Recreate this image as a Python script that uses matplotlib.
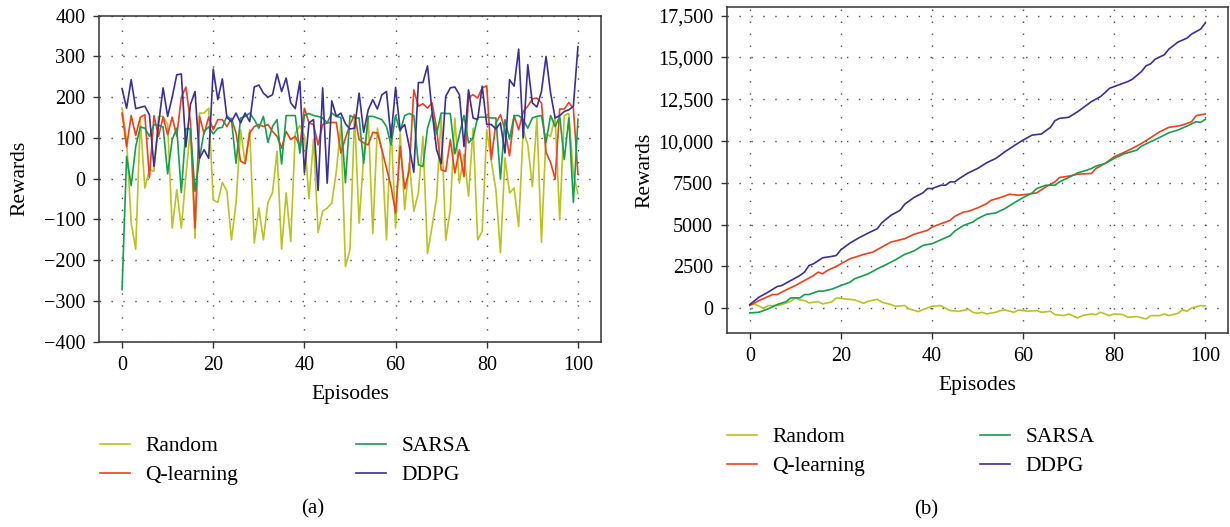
import numpy as np
import matplotlib
matplotlib.use("Agg")
import matplotlib.pyplot as plt
from matplotlib.ticker import FixedLocator, FixedFormatter

plt.rcParams["font.family"] = ["Liberation Serif", "DejaVu Serif"]

# ---- data ----
series_names = ["Random", "Q-learning", "SARSA", "DDPG"]
series_colors = ["#b9c41c", "#f0401e", "#13a04c", "#3b2f98"]

episodes = np.arange(0, 101)

# (a) reward per episode
random_rewards = [
    173, 96, -109, -173, 145, -23, 22, 18, 153, 153,
    133, -121, -27, -121, 6, 124, -146, 161, 161, 173,
    -52, -58, -9, -31, -150, -60, 120, 38, 120, -158,
    -72, -150, -58, -34, 67, -173, -35, -154, 112, 130,
    105, -49, 97, -132, -80, -72, -60, 18, 133, -215,
    -174, 157, -109, 55, 150, -135, 124, 71, -150, 133,
    -121, 112, -76, 38, -80, -35, 104, -184, -117, -47,
    153, -151, -76, 149, -11, 60, -43, 124, -150, -129,
    120, 43, -27, -182, 51, -35, -23, -117, 120, 83,
    -19, 149, -156, 110, 104, 153, -101, 155, 160, 10,
    -37,
]
qlearning_rewards = [
    161, 78, 155, 106, 151, 157, 2, 155, 104, 151,
    108, 151, 104, 200, 225, 140, -121, 153, 110, 151,
    120, 145, 145, 128, 148, 112, 43, 37, 112, 128,
    133, 128, 133, 116, 104, 75, 116, 96, 104, 79,
    173, 137, 133, 83, 133, 137, 138, 138, 63, 100,
    133, 157, 96, 88, 83, 114, 112, 71, 26, -19,
    -84, 79, -25, 22, 218, 178, 184, 173, 186, 124,
    22, 18, 96, 14, 71, 5, 200, 206, 198, 223,
    228, 47, 137, 157, 120, 56, 155, 120, 165, 178,
    196, 198, 186, 65, 40, -1, 171, 171, 187, 173,
    11,
]
sarsa_rewards = [
    -272, 55, -17, 79, 127, 124, 104, 133, 131, 127,
    12, 96, 124, -34, 123, 122, -31, 51, 116, 127,
    110, 124, 126, 154, 145, 38, 149, 153, 161, 145,
    124, 153, 89, 128, 145, 36, 155, 155, 155, 63,
    155, 160, 155, 153, 149, 137, 161, 153, 150, -10,
    155, 149, 149, 38, 153, 153, 149, 145, 128, 83,
    155, 116, 155, 160, 155, 34, 30, 124, 161, 110,
    161, 160, 160, 61, 108, 155, 88, 100, 151, 151,
    151, 149, 149, -1, 145, 97, 155, 155, 145, 124,
    149, 153, 155, 89, 155, 128, 153, 47, 149, -58,
    146,
]
ddpg_rewards = [
    221, 173, 243, 172, 175, 178, 157, 30, 133, 223,
    153, 200, 255, 257, 78, 182, 214, 50, 71, 50,
    269, 194, 245, 150, 140, 161, 137, 161, 140, 225,
    230, 210, 200, 206, 257, 214, 247, 186, 172, 239,
    14, 137, 145, -29, 223, -11, 191, 153, 161, 135,
    122, 124, 210, 114, 169, 194, 171, 206, 214, 100,
    224, 120, 133, 79, 16, 236, 236, 277, 165, 71,
    37, 202, 223, 225, 206, 79, 218, 149, 145, 227,
    133, 133, 122, 137, 63, 243, 227, 318, 100, 280,
    186, 176, 214, 300, 210, 149, 155, 165, 169, 178,
    324,
]

# (b) cumulative reward
random_cum_ep = [0, 1, 3, 4, 6, 7, 9, 10, 11, 12, 13, 15, 16, 18, 19, 21, 23, 25,
                 26, 28, 29, 31, 32, 34, 35, 37, 38, 40, 42, 43, 44, 46, 48, 49,
                 50, 51, 52, 54, 55, 56, 58, 59, 61, 63, 64, 66, 67, 69, 70, 72,
                 73, 75, 76, 77, 79, 80, 82, 83, 85, 87, 88, 90, 91, 92, 94, 95,
                 96, 97, 99, 100]
random_cum = [220, 260, 0, 160, 160, 220, 420, 620, 500, 460, 320, 400, 260, 380,
              620, 560, 500, 300, 420, 540, 360, 220, 120, 160, -40, -200, -80,
              120, 160, 0, -140, -180, -60, -240, -300, -240, -340, -240, -140,
              -100, -240, -100, -180, -140, -240, -180, -380, -440, -340, -580,
              -440, -340, -380, -240, -440, -340, -380, -540, -500, -640, -440,
              -440, -340, -440, -300, -100, -180, 20, 160, 140]

qlearning_cum_ep = [0, 2, 5, 6, 8, 10, 12, 14, 15, 16, 17, 19, 20, 22, 25, 27, 29,
                    31, 34, 36, 39, 40, 42, 44, 45, 47, 48, 50, 52, 53, 55, 57,
                    59, 61, 63, 65, 67, 68, 70, 72, 75, 76, 78, 80, 82, 84, 86,
                    88, 90, 92, 94, 95, 97, 98, 100]
qlearning_cum = [160, 460, 820, 820, 1100, 1360, 1660, 1960, 2160, 2060, 2260,
                 2500, 2660, 2960, 3220, 3360, 3660, 3960, 4160, 4420, 4660, 4860,
                 5060, 5260, 5500, 5760, 5800, 6000, 6260, 6460, 6620, 6820, 6760,
                 6820, 6900, 7260, 7560, 7820, 7900, 8020, 8060, 8360, 8660, 9060,
                 9300, 9560, 9860, 10200, 10560, 10820, 10900, 10960, 11160,
                 11520, 11620]

sarsa_cum_ep = [0, 2, 4, 6, 8, 9, 11, 12, 13, 15, 16, 18, 20, 22, 23, 25, 26, 28,
                30, 32, 34, 36, 38, 40, 42, 44, 45, 47, 49, 50, 52, 54, 56, 58,
                60, 62, 63, 65, 67, 68, 70, 72, 74, 75, 76, 78, 80, 82, 85, 86,
                88, 90, 92, 94, 96, 98, 99, 100]
sarsa_cum = [-280, -240, -40, 220, 400, 620, 620, 820, 820, 1020, 1020, 1140,
             1360, 1560, 1760, 1960, 2060, 2360, 2620, 2900, 3220, 3420, 3760,
             3860, 4100, 4340, 4620, 4960, 5160, 5360, 5620, 5700, 5960, 6300,
             6620, 6900, 7160, 7360, 7360, 7560, 7820, 8100, 8260, 8360, 8500,
             8660, 8960, 9220, 9460, 9700, 9960, 10220, 10500, 10660, 10900,
             11160, 11120, 11300]

ddpg_cum_ep = [0, 2, 4, 6, 7, 9, 11, 12, 13, 14, 16, 18, 19, 20, 22, 24, 26, 28,
               29, 31, 33, 34, 36, 38, 39, 40, 42, 43, 44, 45, 46, 48, 50, 52,
               54, 56, 58, 60, 62, 64, 66, 67, 68, 70, 72, 74, 75, 77, 78, 79,
               81, 83, 84, 86, 87, 88, 89, 91, 92, 94, 96, 97, 99, 100]
ddpg_cum = [220, 660, 960, 1300, 1360, 1660, 1960, 2160, 2560, 2660, 3020, 3100,
            3160, 3500, 3900, 4220, 4500, 4760, 5120, 5560, 5860, 6220, 6620,
            6900, 7160, 7160, 7360, 7360, 7560, 7560, 7760, 8100, 8360, 8700,
            8960, 9360, 9720, 10060, 10360, 10420, 10820, 11220, 11360, 11420,
            11760, 12160, 12360, 12660, 12900, 13160, 13360, 13560, 13700,
            14160, 14500, 14620, 14900, 15160, 15500, 15920, 16160, 16400,
            16700, 17060]

x_ticks = [0, 20, 40, 60, 80, 100]
a_yticks = [-400, -300, -200, -100, 0, 100, 200, 300, 400]
b_yticks = [0, 2500, 5000, 7500, 10000, 12500, 15000, 17500]
b_ytick_labels = ["0", "2500", "5000", "7500", "10,000", "12,500", "15,000", "17,500"]


def style_axes(ax):
    ax.set_xlim(-5, 105)
    ax.xaxis.set_major_locator(FixedLocator(x_ticks))
    ax.grid(True, color="#4a4a4a", lw=1.0, ls=(0, (1, 7.6)))
    ax.set_axisbelow(True)
    for sp in ax.spines.values():
        sp.set_color("#333333")
        sp.set_linewidth(1.1)
    ax.tick_params(direction="out", length=4, width=1.0, color="#333333",
                   labelsize=14.5, pad=6)
    ax.set_xlabel("Episodes", fontsize=15.5)
    ax.set_ylabel("Rewards", fontsize=15.5)
    ax.xaxis.label.set_verticalalignment("center")
    ax.yaxis.label.set_verticalalignment("center")


fig = plt.figure(figsize=(12.3, 5.27), dpi=100)
ax_a = fig.add_axes([0.0807, 0.3516, 0.4077, 0.6186])
ax_b = fig.add_axes([0.5911, 0.3675, 0.4073, 0.6186])

rewards = [random_rewards, qlearning_rewards, sarsa_rewards, ddpg_rewards]
for name, color, vals in zip(series_names, series_colors, rewards):
    ax_a.plot(episodes, vals, color=color, lw=1.2, label=name)

cum_x = [random_cum_ep, qlearning_cum_ep, sarsa_cum_ep, ddpg_cum_ep]
cum_y = [random_cum, qlearning_cum, sarsa_cum, ddpg_cum]
for name, color, xs, ys in zip(series_names, series_colors, cum_x, cum_y):
    ax_b.plot(xs, ys, color=color, lw=1.2, label=name)

style_axes(ax_a)
ax_a.set_ylim(-400, 400)
ax_a.yaxis.set_major_locator(FixedLocator(a_yticks))
ax_a.xaxis.set_label_coords(0.5, -0.163)
ax_a.yaxis.set_label_coords(-0.158, 0.5)

style_axes(ax_b)
ax_b.set_ylim(-1500, 18000)
ax_b.yaxis.set_major_locator(FixedLocator(b_yticks))
ax_b.yaxis.set_major_formatter(FixedFormatter(b_ytick_labels))
ax_b.xaxis.set_label_coords(0.5, -0.159)
ax_b.yaxis.set_label_coords(-0.164, 0.5)

leg_kw = dict(ncol=2, loc="upper left", frameon=False, fontsize=15.5,
              handlelength=1.4, handletextpad=0.7, labelspacing=0.4,
              borderpad=0, borderaxespad=0)
ax_a.legend(bbox_to_anchor=(0.0813, 0.172), bbox_transform=fig.transFigure,
            columnspacing=5.5, **leg_kw)
ax_b.legend(bbox_to_anchor=(0.5911, 0.189), bbox_transform=fig.transFigure,
            columnspacing=5.35, **leg_kw)

fig.text(313 / 1230, 1 - 509 / 527, "(a)", ha="center", va="center", fontsize=15)
fig.text(926 / 1230, 1 - 510 / 527, "(b)", ha="center", va="center", fontsize=15)

fig.savefig("out.png", dpi=100)
